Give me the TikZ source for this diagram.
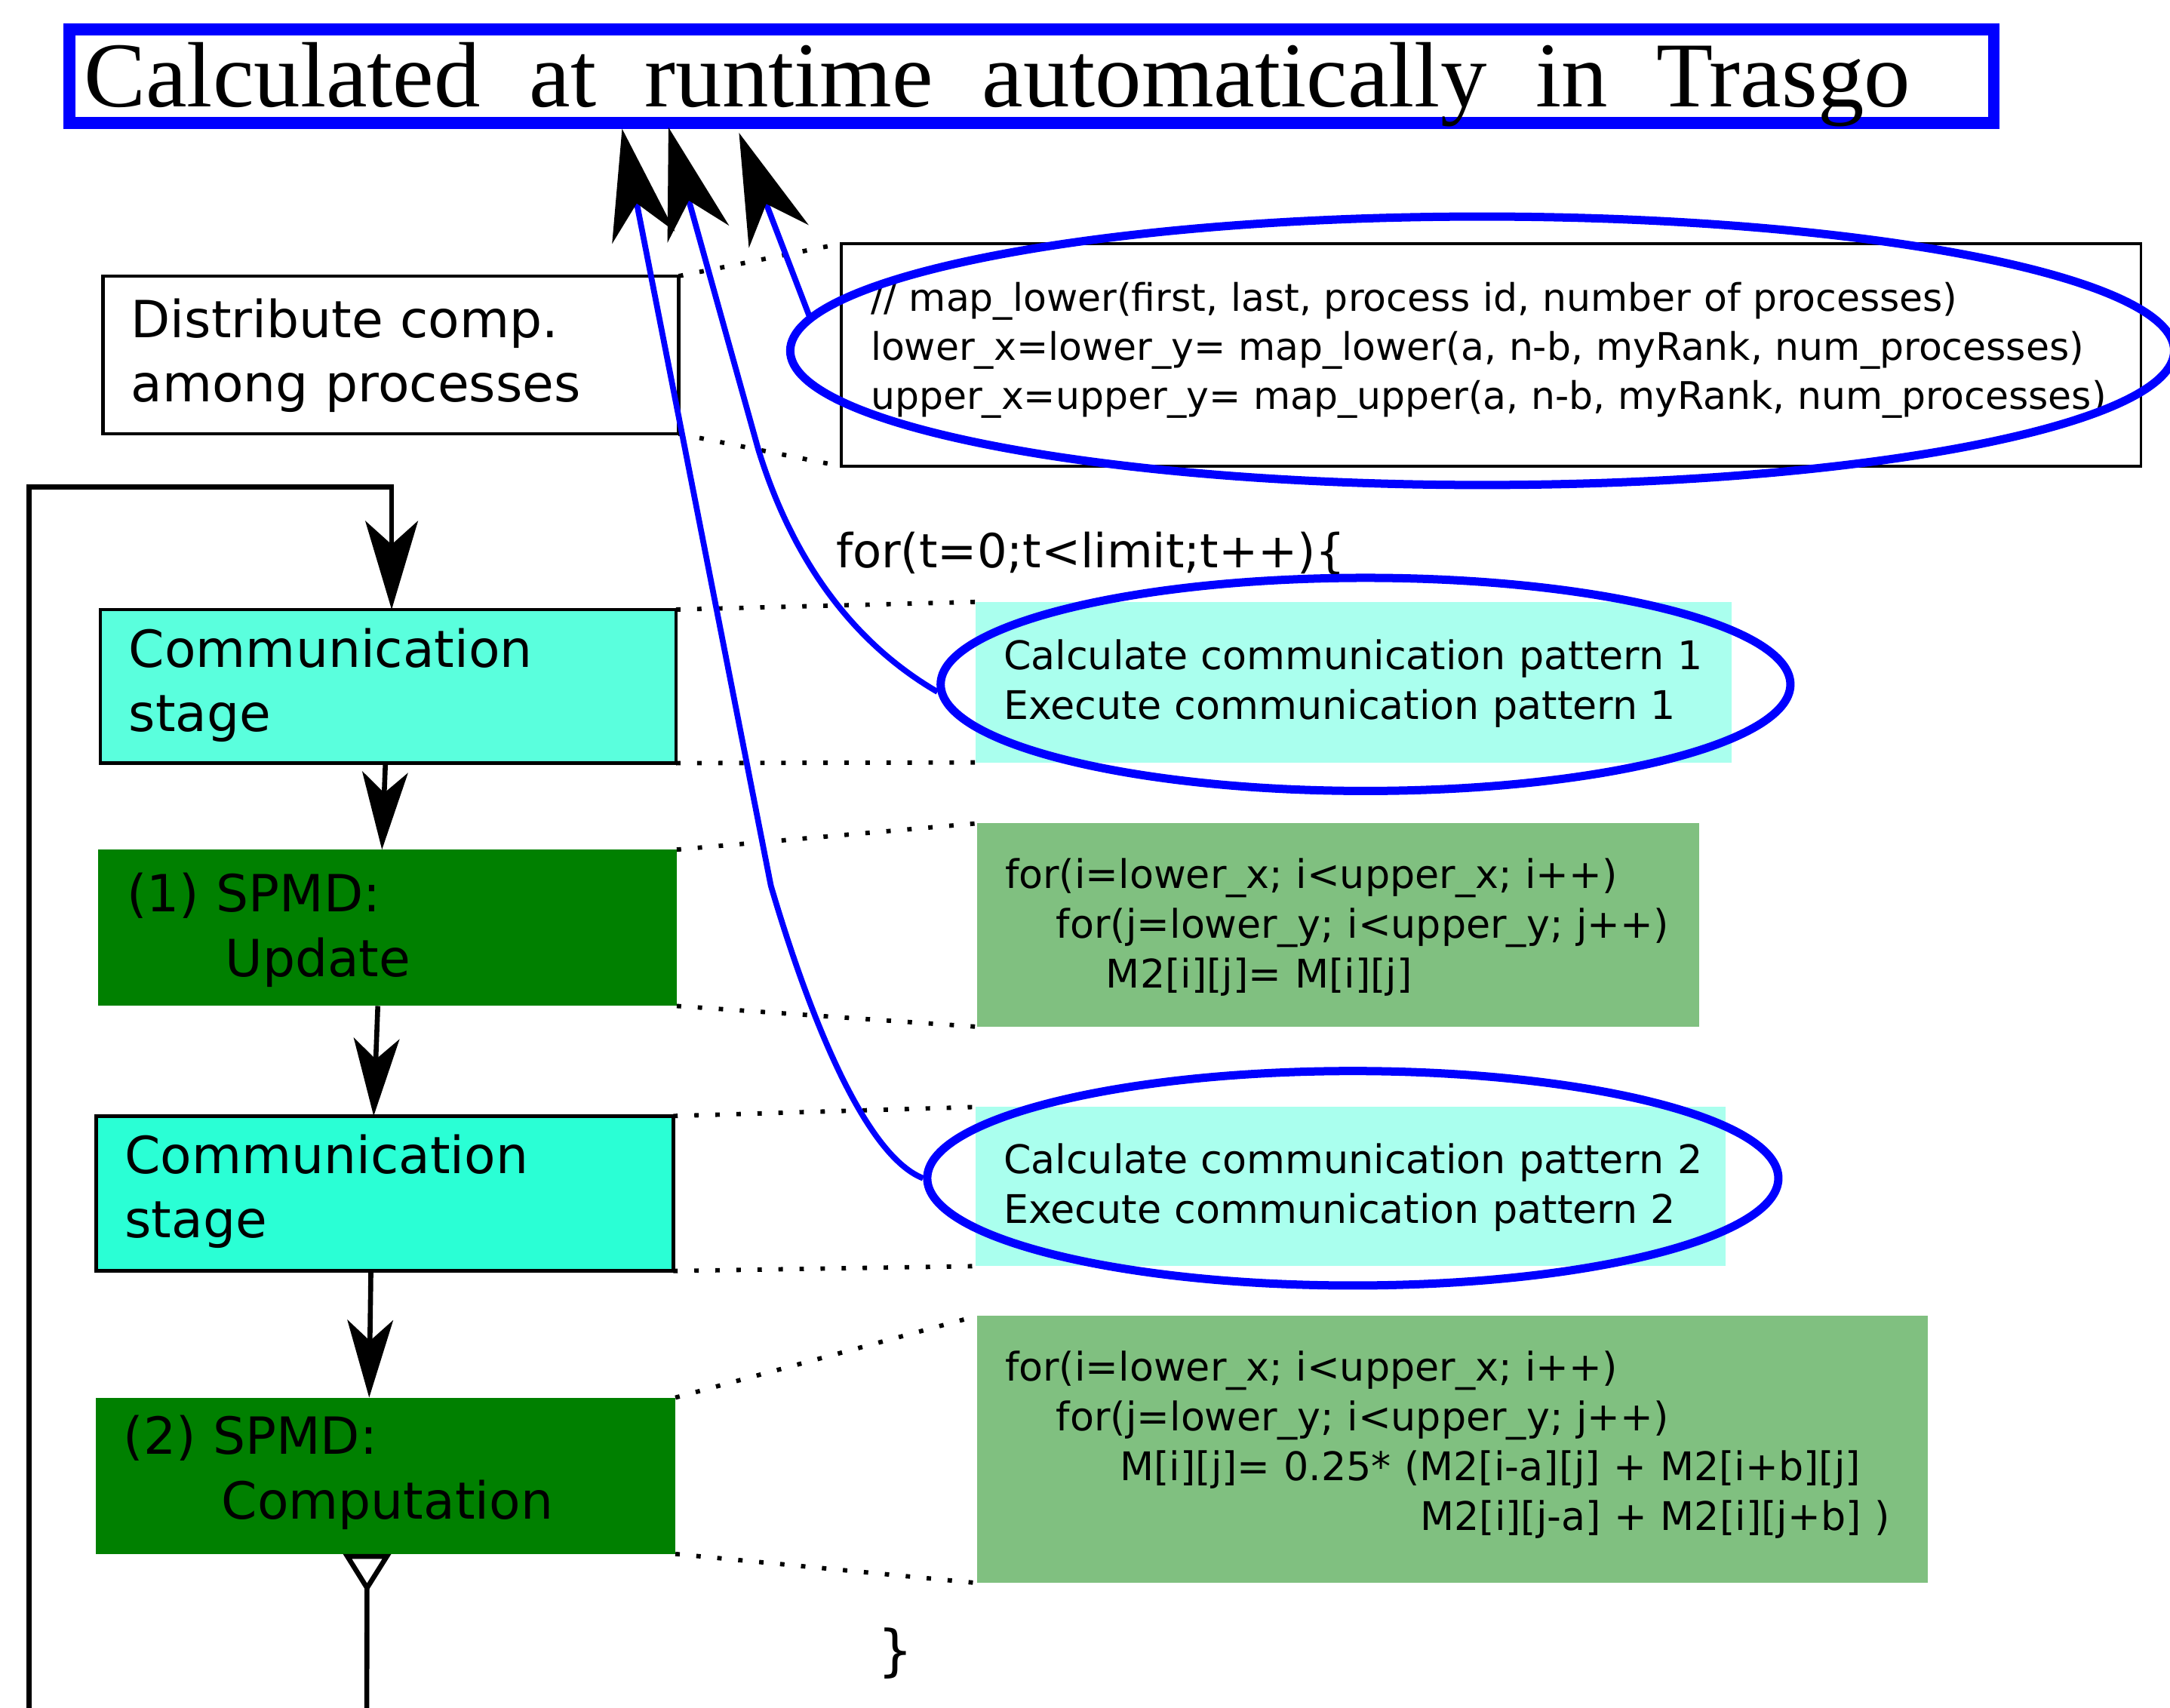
\documentclass[tikz,border=0pt]{standalone}
\usepackage{fontspec}
\setmainfont{DejaVu Sans}
\newfontfamily\titlefont[WordSpace=2.1]{Liberation Serif}
\usetikzlibrary{arrows.meta,shapes.geometric}
\definecolor{comm_light}{RGB}{90,255,221}
\definecolor{comm_dark}{RGB}{42,255,213}
\definecolor{pattern_aqua}{RGB}{170,255,238}
\definecolor{spmd_green}{RGB}{0,128,0}
\definecolor{code_green}{RGB}{128,192,128}

\begin{document}
\begin{tikzpicture}[x=1pt,y=-1pt]
    \tikzstyle{panel}=[rectangle, anchor=north west, inner sep=0pt, outer sep=0pt]
    \tikzstyle{stage}=[panel, draw=black, line width=2.6pt]
    \tikzstyle{spmd}=[panel, fill=spmd_green]
    \tikzstyle{loopbody}=[panel, fill=code_green]
    \tikzstyle{commcode}=[panel, fill=pattern_aqua]
    \tikzstyle{ring}=[ellipse, draw=blue, line width=6pt, inner sep=0pt]
    \tikzstyle{boxtext}=[anchor=base west, inner sep=0pt, text width=380pt, align=left, font=\fontsize{37}{46.5}\selectfont]
    \tikzstyle{codetext}=[anchor=base west, inner sep=0pt, text width=940pt, align=left, font=\fontsize{28.5}{36}\selectfont]
    \tikzstyle{flow}=[draw=black, line width=3.6pt, -{Stealth[length=56pt,width=33pt,inset=15pt]}]
    \tikzstyle{hook}=[draw=blue, line width=4.2pt, -{Stealth[length=80pt,width=46pt,inset=25pt,color=black,fill=black]}]
    \tikzstyle{link}=[draw=black, line width=3.2pt, dash pattern=on 3.2pt off 12pt]

    \useasboundingbox (0,0) rectangle (1568,1234);

    % title
    \node[panel, draw=blue, line width=8.5pt, minimum width=1390.5pt, minimum height=67.5pt] (title) at (50.25,21.25) {};
    \node[anchor=base west, inner sep=0pt, font=\titlefont\fontsize{67}{80}\selectfont] (title-text) at (60.5,77) {Calculated at runtime automatically in Trasgo};

    % left column
    \node[stage, fill=white, minimum width=416pt, minimum height=114pt] (dist) at (74.5,199.5) {};
    \node[stage, fill=comm_light, minimum width=416pt, minimum height=111pt] (comm1) at (72.5,440.5) {};
    \node[spmd, minimum width=418pt, minimum height=113pt] (spmd1) at (71,614) {};
    \node[stage, fill=comm_dark, minimum width=417pt, minimum height=112pt] (comm2) at (69.5,806.5) {};
    \node[spmd, minimum width=418.5pt, minimum height=113pt] (spmd2) at (69.5,1010) {};

    \node[boxtext] (dist-text) at (94.5,244) {Distribute comp.\\among processes};
    \node[boxtext] (comm1-text) at (93,482) {Communication\\stage};
    \node[boxtext] (spmd1-text) at (91.5,659) {(1) SPMD:\\\hspace*{71pt}Update};
    \node[boxtext] (comm2-text) at (90,848) {Communication\\stage};
    \node[boxtext] (spmd2-text) at (89,1051) {(2) SPMD:\\\hspace*{71pt}Computation};

    % right column: code
    \node[panel, draw=black, line width=2pt, fill=white, minimum width=939pt, minimum height=161pt] (init) at (608,176) {};
    \node[commcode, minimum width=546pt, minimum height=116pt] (pat1) at (705,435) {};
    \node[loopbody, minimum width=522pt, minimum height=147pt] (upd) at (706,595) {};
    \node[commcode, minimum width=542pt, minimum height=115pt] (pat2) at (705,800) {};
    \node[loopbody, minimum width=687pt, minimum height=193pt] (comp) at (706,951) {};

    \node[codetext, font=\fontsize{27.5}{35.5}\selectfont] (init-text) at (629,225)
        {// map\_lower(first, last, process id, number of processes)\\lower\_x=lower\_y= map\_lower(a, n-b, myRank, num\_processes)\\upper\_x=upper\_y= map\_upper(a, n-b, myRank, num\_processes)};
    \node[anchor=base west, inner sep=0pt, font=\fontsize{34}{40}\selectfont] (loop-head) at (604,410) {for(t=0;t<limit;t++)\{};
    \node[codetext] (pat1-text) at (725,484) {Calculate communication pattern 1\\Execute communication pattern 1};
    \node[codetext] (upd-text) at (726,642)
        {for(i=lower\_x; i<upper\_x; i++)\\\hspace*{37pt}for(j=lower\_y; i<upper\_y; j++)\\\hspace*{73pt}M2[i][j]= M[i][j]};
    \node[codetext] (pat2-text) at (725,848) {Calculate communication pattern 2\\Execute communication pattern 2};
    \node[codetext] (comp-text) at (726,998)
        {for(i=lower\_x; i<upper\_x; i++)\\\hspace*{37pt}for(j=lower\_y; i<upper\_y; j++)\\\hspace*{83pt}M[i][j]= 0.25* (M2[i-a][j] + M2[i+b][j]\\\hspace*{300pt}M2[i][j-a] + M2[i][j+b] )};
    \node[anchor=base west, inner sep=0pt, font=\fontsize{40}{46}\selectfont] (loop-end) at (634,1207) {\}};

    % dotted zoom lines
    \path
     (dist.north east) edge[link] (init.north west)
     (dist.south east) edge[link] (init.south west)
     (comm1.north east) edge[link] (pat1.north west)
     (comm1.south east) edge[link] (pat1.south west)
     (spmd1.north east) edge[link] (upd.north west)
     (spmd1.south east) edge[link] (upd.south west)
     (comm2.north east) edge[link] (pat2.north west)
     (comm2.south east) edge[link] (pat2.south west)
     (spmd2.north east) edge[link] (comp.north west)
     (spmd2.south east) edge[link] (comp.south west)
     ;

    % control flow
    \coordinate (loop-in) at (21,1240);
    \coordinate (loop-top) at (283,352);
    \coordinate (tail-out) at (265,1240);
    \draw[flow, -{Stealth[length=64pt,width=38pt,inset=17pt]}] (loop-in) |- (loop-top) -- (loop-top |- comm1.north);
    \draw[flow] ([xshift=-2pt]comm1.south) -- ([xshift=-4pt]spmd1.north);
    \draw[flow] ([xshift=-7pt]spmd1.south) -- ([xshift=-8pt]comm2.north);
    \draw[flow] ([xshift=-10pt]comm2.south) -- ([xshift=-12pt]spmd2.north);
    \draw[flow, {Triangle[open,reversed,length=28pt,width=34pt]}-] ([xshift=-13.5pt]spmd2.south) -- (tail-out);

    % runtime calculations
    \node[ring, minimum width=1000pt, minimum height=194pt] (ring-init) at (1071,253.5) {};
    \node[ring, minimum width=614pt, minimum height=154pt] (ring-pat1) at (986.7,494.6) {};
    \node[ring, minimum width=615pt, minimum height=155pt] (ring-pat2) at (977.5,851.5) {};

    \coordinate (in1) at (449.5,93);
    \coordinate (in2) at (483,92);
    \coordinate (in3) at (534,96);
    \draw[hook] (ring-init.177) -- (in3);
    \draw[hook] (ring-pat1.181) .. controls (600,455) and (565,380) .. (548,325) -- (in2);
    \draw[hook] (ring-pat2.180) .. controls (625,835) and (585,735) .. (557,640) -- (in1);
\end{tikzpicture}
\end{document}
